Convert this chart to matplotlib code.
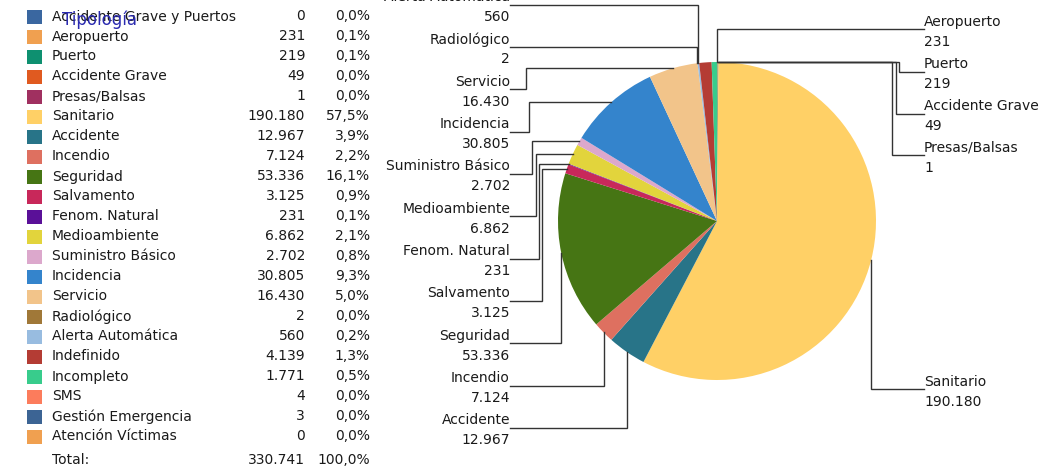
import numpy as np
import matplotlib.pyplot as plt

# Datos: tipologías de incidentes
categories = ['Accidente Grave y Puertos', 'Aeropuerto', 'Puerto', 'Accidente Grave',
              'Presas/Balsas', 'Sanitario', 'Accidente', 'Incendio', 'Seguridad',
              'Salvamento', 'Fenom. Natural', 'Medioambiente', 'Suministro Básico',
              'Incidencia', 'Servicio', 'Radiológico', 'Alerta Automática', 'Indefinido',
              'Incompleto', 'SMS', 'Gestión Emergencia', 'Atención Víctimas']
values = [0, 231, 219, 49, 1, 190180, 12967, 7124, 53336, 3125, 231, 6862, 2702,
          30805, 16430, 2, 560, 4139, 1771, 4, 3, 0]
colors = ['#3a67a0', '#f0a050', '#0e9070', '#e05a20', '#a03060', '#ffd066', '#287488',
          '#de7060', '#467514', '#c8285a', '#5a1098', '#e2d43c', '#dca8cc', '#3484cc',
          '#f2c48a', '#a07838', '#98bce0', '#b43c34', '#38cc8c', '#fc7c5c', '#3c6494',
          '#f0a050']

# Etiquetas visibles del gráfico (izquierda de arriba a abajo, derecha de arriba a abajo)
left_labeled = ['Alerta Automática', 'Radiológico', 'Servicio', 'Incidencia',
                'Suministro Básico', 'Medioambiente', 'Fenom. Natural', 'Salvamento',
                'Seguridad', 'Incendio', 'Accidente']
right_labeled = ['Aeropuerto', 'Puerto', 'Accidente Grave', 'Presas/Balsas', 'Sanitario']


def fmt_num(v):
    return f'{v:,}'.replace(',', '.')


def fmt_pct(v, total):
    return f'{100 * v / total:.1f}%'.replace('.', ',')


W, H = 1044, 471
fig = plt.figure(figsize=(W / 100, H / 100), dpi=100)
ax = fig.add_axes([0, 0, 1, 1])

FS = 10
TXT = '#1a1a1a'
total = sum(values)

# 1. Tabla de leyenda
row0, step = 16.5, 20.0
for i, (cat, val, col) in enumerate(zip(categories, values, colors)):
    y = H - (row0 + i * step)
    ax.add_patch(plt.Rectangle((27, y - 7), 15, 14, color=col, lw=0))
    ax.text(52, y, cat, fontsize=FS, color=TXT, va='center', ha='left')
    ax.text(305, y, fmt_num(val), fontsize=FS, color=TXT, va='center', ha='right')
    ax.text(370, y, fmt_pct(val, total), fontsize=FS, color=TXT, va='center', ha='right')
y = H - (row0 + len(categories) * step + 3.5)
ax.text(52, y, 'Total:', fontsize=FS, color=TXT, va='center', ha='left')
ax.text(305, y, fmt_num(total), fontsize=FS, color=TXT, va='center', ha='right')
ax.text(370, y, '100,0%', fontsize=FS, color=TXT, va='center', ha='right')

ax.text(62, H - 20, 'Tipología', fontsize=12, color='#2a2ab0', va='center', ha='left')

# 2. Tarta
cx, cy, r = 717, H - 221, 159
wedges, _ = ax.pie(values, colors=colors, startangle=90, counterclock=False,
                   center=(cx, cy), radius=r, wedgeprops=dict(linewidth=0))


def edge_point(name):
    w = wedges[categories.index(name)]
    a = np.deg2rad((w.theta1 + w.theta2) / 2)
    return cx + r * np.cos(a), cy + r * np.sin(a)


def draw_label(name, line_y, side, k):
    val = values[categories.index(name)]
    ex, ey = edge_point(name)
    ly = H - line_y
    if side == 'left':
        tx, ha, colx = 510, 'right', 526 + 3.2 * k
    else:
        tx, ha, colx = 924, 'left', 899 - 3.5 * k
    ax.text(tx, ly + 3.5, name, fontsize=FS, color=TXT, ha=ha, va='baseline')
    ax.text(tx, ly - 16.3, fmt_num(val), fontsize=FS, color=TXT, ha=ha, va='baseline')
    if (ly - ey) * (ey - cy) >= 0:
        xs, ys = [tx, ex, ex], [ly, ly, ey]
        routed = False
    else:
        xs, ys = [tx, colx, colx, ex], [ly, ly, ey, ey]
        routed = True
    ax.plot(xs, ys, color='#333333', lw=1.0, solid_joinstyle='miter')
    return routed


k = 0
for i, name in enumerate(left_labeled):
    if draw_label(name, 4.8 + 42.3 * i, 'left', k):
        k += 1

right_lines = [29.3, 71.6, 113.5, 155.3, 389.2]
k = 0
for name, ly in zip(right_labeled, right_lines):
    if draw_label(name, ly, 'right', k):
        k += 1

ax.set_xlim(0, W)
ax.set_ylim(0, H)
ax.set_aspect('auto')
ax.axis('off')

plt.savefig('out.png', dpi=100)
